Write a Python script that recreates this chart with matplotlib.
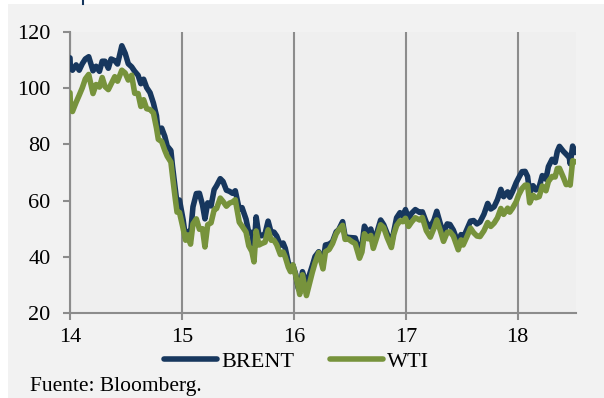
import matplotlib
matplotlib.use('Agg')
import matplotlib.pyplot as plt
import pandas as pd
from matplotlib.lines import Line2D
from matplotlib.patches import Rectangle

# Brent y WTI, USD/barril (cierres aproximados)
fechas = [
    # 2014
    '2014-01-01',
    '2014-01-02', '2014-01-09', '2014-01-21', '2014-01-31', '2014-02-10', '2014-02-20',
    '2014-03-03', '2014-03-17', '2014-03-27', '2014-04-07', '2014-04-16', '2014-04-25',
    '2014-05-06', '2014-05-15', '2014-05-27', '2014-06-05', '2014-06-19', '2014-06-30',
    '2014-07-10', '2014-07-21', '2014-07-31', '2014-08-11', '2014-08-20', '2014-08-29',
    '2014-09-08', '2014-09-19', '2014-09-30', '2014-10-10', '2014-10-16', '2014-10-27',
    '2014-11-06', '2014-11-14', '2014-11-26', '2014-12-01', '2014-12-10', '2014-12-16',
    '2014-12-24',
    # 2015
    '2015-01-05', '2015-01-13', '2015-01-21', '2015-01-29', '2015-02-06', '2015-02-17',
    '2015-02-27', '2015-03-09', '2015-03-17', '2015-03-26', '2015-04-06', '2015-04-16',
    '2015-04-24', '2015-05-06', '2015-05-15', '2015-05-26', '2015-06-05', '2015-06-15',
    '2015-06-24', '2015-07-07', '2015-07-16', '2015-07-29', '2015-08-07', '2015-08-17',
    '2015-08-24', '2015-08-31', '2015-09-09', '2015-09-18', '2015-09-29', '2015-10-09',
    '2015-10-19', '2015-10-28', '2015-11-06', '2015-11-18', '2015-11-27', '2015-12-04',
    '2015-12-14', '2015-12-21', '2015-12-29',
    # 2016
    '2016-01-07', '2016-01-15', '2016-01-20', '2016-01-29', '2016-02-11', '2016-02-19',
    '2016-03-01', '2016-03-10', '2016-03-22', '2016-04-05', '2016-04-13', '2016-04-25',
    '2016-05-06', '2016-05-18', '2016-05-26', '2016-06-08', '2016-06-16', '2016-06-27',
    '2016-07-08', '2016-07-19', '2016-08-02', '2016-08-10', '2016-08-18', '2016-08-30',
    '2016-09-08', '2016-09-16', '2016-09-28', '2016-10-10', '2016-10-20', '2016-10-31',
    '2016-11-14', '2016-11-22', '2016-12-01', '2016-12-12', '2016-12-21', '2016-12-30',
    # 2017
    '2017-01-10', '2017-01-20', '2017-02-01', '2017-02-15', '2017-02-24', '2017-03-09',
    '2017-03-22', '2017-04-03', '2017-04-12', '2017-04-24', '2017-05-04', '2017-05-16',
    '2017-05-25', '2017-06-05', '2017-06-21', '2017-06-30', '2017-07-07', '2017-07-19',
    '2017-07-31', '2017-08-10', '2017-08-21', '2017-08-31', '2017-09-13', '2017-09-25',
    '2017-10-05', '2017-10-16', '2017-10-27', '2017-11-07', '2017-11-16', '2017-11-29',
    '2017-12-06', '2017-12-15', '2017-12-27',
    # 2018
    '2018-01-04', '2018-01-15', '2018-01-25', '2018-02-02', '2018-02-09', '2018-02-20',
    '2018-03-01', '2018-03-12', '2018-03-22', '2018-04-03', '2018-04-11', '2018-04-23',
    '2018-05-03', '2018-05-10', '2018-05-17', '2018-05-30', '2018-06-08', '2018-06-18',
    '2018-06-21', '2018-06-29', '2018-07-06', '2018-07-10',
]

brent = [
    110.8,
    107.8, 106.4, 108.3, 106.4, 108.7, 110.4,
    111.2, 106.2, 107.8, 106.0, 109.6, 109.6,
    107.1, 110.4, 109.8, 108.6, 115.1, 112.4,
    108.7, 107.6, 106.0, 104.6, 101.6, 103.2,
    100.2, 98.4, 94.7, 90.2, 84.0, 85.8,
    82.9, 79.4, 77.8, 72.5, 64.2, 59.0,
    60.2,
    53.1, 46.6, 49.0, 48.1, 57.8, 62.5,
    62.6, 58.5, 53.5, 59.2, 58.1, 63.9,
    65.3, 67.8, 66.8, 63.7, 63.3, 62.6,
    63.5, 56.9, 57.5, 53.4, 48.6, 48.7,
    42.7, 54.2, 47.6, 47.5, 48.2, 52.7,
    48.6, 48.8, 47.4, 44.1, 44.9, 43.0,
    37.9, 36.4, 37.0,
    33.8, 28.9, 27.9, 34.7, 30.1, 33.0,
    36.8, 40.1, 41.8, 37.9, 44.2, 44.5,
    45.4, 48.9, 49.6, 52.5, 47.2, 46.9,
    46.8, 46.7, 41.8, 44.1, 50.9, 48.4,
    49.9, 45.8, 48.7, 53.1, 51.4, 48.3,
    44.4, 49.1, 53.9, 55.7, 54.5, 56.8,
    53.6, 55.5, 56.8, 55.8, 56.0, 52.2,
    50.6, 53.1, 56.2, 51.6, 48.4, 51.7,
    51.5, 49.5, 44.8, 47.9, 46.7, 49.7,
    52.7, 52.9, 51.7, 52.4, 55.2, 59.0,
    57.0, 57.8, 60.4, 64.0, 61.4, 63.1,
    61.2, 63.2, 66.4,
    68.1, 70.3, 70.4, 68.6, 62.8, 65.3,
    63.8, 64.9, 68.9, 67.6, 72.1, 74.7,
    73.6, 77.5, 79.3, 77.5, 76.5, 75.3,
    73.1, 79.4, 77.1, 78.1,
]

wti = [
    98.4,
    95.4, 91.7, 95.0, 97.5, 100.1, 103.3,
    104.9, 98.1, 101.3, 100.4, 103.8, 100.6,
    99.5, 101.5, 104.1, 102.5, 106.4, 105.4,
    102.9, 104.6, 98.2, 98.1, 93.5, 95.9,
    92.7, 92.4, 91.2, 85.8, 81.8, 81.0,
    77.9, 75.8, 73.7, 69.0, 60.9, 55.9,
    55.8,
    50.0, 45.9, 47.8, 44.5, 51.7, 53.5,
    49.8, 50.0, 43.5, 51.4, 52.1, 56.7,
    57.2, 60.9, 59.7, 58.0, 59.1, 59.5,
    60.3, 52.3, 50.9, 48.8, 43.9, 41.9,
    38.2, 49.2, 44.2, 44.7, 45.2, 49.6,
    45.9, 45.9, 44.3, 40.8, 41.7, 39.9,
    36.3, 34.7, 37.1,
    33.3, 29.4, 26.6, 33.6, 26.2, 29.6,
    34.4, 37.8, 41.5, 35.7, 41.8, 42.6,
    44.7, 48.2, 49.5, 51.2, 46.2, 46.3,
    45.4, 44.7, 39.5, 41.7, 48.2, 46.4,
    47.6, 43.0, 47.1, 51.4, 50.4, 46.9,
    43.3, 48.0, 51.1, 52.8, 52.5, 53.7,
    50.8, 52.4, 53.9, 53.1, 54.0, 49.3,
    47.0, 50.2, 53.1, 49.2, 45.5, 48.7,
    48.9, 47.4, 42.5, 46.0, 44.2, 47.1,
    50.2, 48.6, 47.4, 47.2, 49.3, 52.2,
    50.8, 52.0, 53.9, 57.2, 55.1, 57.3,
    55.9, 57.3, 59.6,
    62.0, 64.3, 65.5, 65.5, 59.2, 61.9,
    61.0, 61.4, 65.2, 63.5, 66.8, 68.6,
    68.4, 71.4, 71.5, 68.2, 65.7, 65.9,
    65.5, 74.2, 73.8, 73.8,
]

y_ticks = [20, 40, 60, 80, 100, 120]
x_ticks = [14, 15, 16, 17, 18]
x_labels = ['14', '15', '16', '17', '18']

AZUL = '#17375e'
VERDE = '#77933c'
GRIS = '#8c8c8c'


def anio_decimal(serie):
    # 2014-01-01 -> 14.0, eje en años de dos cifras
    f = pd.to_datetime(pd.Series(serie))
    inicio = pd.to_datetime(f.dt.year.astype(str) + '-01-01')
    return (f.dt.year - 2000) + (f - inicio).dt.days / 365.0


plt.rcParams['font.family'] = ['Liberation Serif', 'DejaVu Serif']

fig = plt.figure(figsize=(6.04, 3.98), dpi=100, facecolor='white')
# fondo gris del recuadro
fig.patches.append(Rectangle((8 / 604, 0), 1, 1 - 4 / 398, transform=fig.transFigure,
                             facecolor='#f2f2f2', edgecolor='none', zorder=-10))
fig.lines.append(Line2D([83 / 604, 83 / 604], [1 - 4 / 398, 1], transform=fig.transFigure,
                        color=AZUL, lw=1.5))

ax = fig.add_axes([70 / 604, 1 - 313 / 398, 506 / 604, 281 / 398])
ax.set_facecolor('#efefef')

x = anio_decimal(fechas)
ax.plot(x, brent, color=AZUL, lw=4, label='BRENT', solid_capstyle='round',
        solid_joinstyle='round', zorder=3)
ax.plot(x, wti, color=VERDE, lw=4, label='WTI', solid_capstyle='round',
        solid_joinstyle='round', zorder=4)

ax.set_xlim(14, x.iloc[-1])
ax.set_ylim(20, 120)
ax.set_xticks(x_ticks)
ax.set_xticklabels(x_labels)
ax.set_yticks(y_ticks)

for s in ['top', 'right']:
    ax.spines[s].set_visible(False)
for s in ['left', 'bottom']:
    ax.spines[s].set_color(GRIS)
    ax.spines[s].set_linewidth(1.5)

ax.grid(axis='x', color=GRIS, lw=1.5)
ax.set_axisbelow(True)
ax.tick_params(axis='both', colors=GRIS, labelcolor='black', labelsize=16,
               length=5, width=1.5)
ax.tick_params(axis='y', pad=9)
ax.tick_params(axis='x', pad=6)

fig.legend(loc='center', bbox_to_anchor=(0.491, 0.0905), ncol=2, frameon=False,
           fontsize=16, handlelength=2.4, handletextpad=0.18, columnspacing=1.6,
           borderpad=0, borderaxespad=0)

fig.text(30 / 604, 7 / 398, 'Fuente: Bloomberg.', fontsize=15.5, ha='left', va='baseline')

fig.savefig('out.png', dpi=100, facecolor=fig.get_facecolor())
